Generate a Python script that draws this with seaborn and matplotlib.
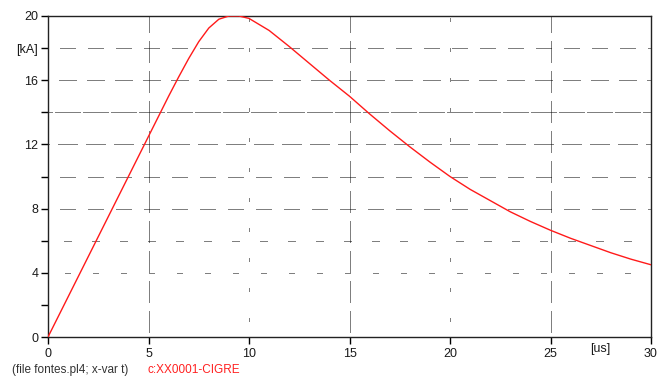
import matplotlib
matplotlib.use("Agg")
import matplotlib.pyplot as plt
import seaborn as sns
import pandas as pd

# Lightning current waveform (CIGRE source), time in microseconds, current in kA
t_us = [0, 1, 2, 3, 4, 5, 5.5, 6, 6.5, 7, 7.5, 8, 8.5, 9, 9.5, 10, 11, 12, 13,
        14, 15, 16, 17, 18, 19, 20, 21, 22, 23, 24, 25, 26, 27, 28, 29, 30]
i_ka = [0.0, 2.5, 5.0, 7.5, 10.0, 12.5, 13.75, 15.0, 16.2, 17.35, 18.4, 19.25,
        19.8, 20.0, 20.0, 19.85, 19.1, 18.1, 17.05, 16.0, 15.0, 13.9, 12.85,
        11.85, 10.9, 10.0, 9.2, 8.5, 7.8, 7.2, 6.65, 6.15, 5.7, 5.25, 4.85, 4.5]

x_ticks = [0, 5, 10, 15, 20, 25, 30]
x_ticklabels = ["0", "5", "10", "15", "20", "25", "30"]
y_ticks = [0, 2, 4, 6, 8, 10, 12, 14, 16, 18, 20]
y_ticklabels = ["0", "", "4", "", "8", "", "12", "", "16", "[kA]", "20"]

df = pd.DataFrame({"t": t_us, "i": i_ka})

sns.set_theme(style="white")
plt.rcParams["font.family"] = ["Liberation Sans", "DejaVu Sans"]
plt.rcParams["lines.scale_dashes"] = False

PX = 0.72  # one pixel in points at 100 dpi

fig = plt.figure(figsize=(6.67, 3.78), dpi=100)
ax = fig.add_axes([48 / 667, 41 / 378, 603 / 667, 321 / 378])
ax.set_xlim(0, 30)
ax.set_ylim(0, 20)


def dotted_dash(dash_px, period_px, start_px):
    """Dash made of single-pixel dots, repeated every period_px."""
    n = max(1, int(round(dash_px / 2.0)))
    seq = [1, 1] * (n - 1) + [1, period_px - (2 * n - 1)]
    seq = [v * PX for v in seq]
    offset = ((period_px - start_px) % period_px) * PX
    return (offset, seq)


# horizontal grid: dash length (px) per level, dashes centred on common columns
h_dash = {4: 6, 6: 9, 8: 16, 10: 17, 12: 20, 14: 26, 16: 18, 18: 15}
h_period = 28
for lvl, d in h_dash.items():
    n = max(1, int(round(d / 2.0)))
    ax.axhline(lvl, color="black", lw=PX,
               linestyle=dotted_dash(d, h_period, 20 - n), zorder=1)

# vertical grid at 5, 15, 25 (dotted dashes) and 10, 20 (sparse marks)
for xv in (5, 15, 25):
    ax.axvline(xv, color="black", lw=PX,
               linestyle=dotted_dash(22, 30, 5), zorder=1)
for xv in (10, 20):
    ax.axvline(xv, color="black", lw=PX,
               linestyle=dotted_dash(3, 30, 16), zorder=1)

sns.lineplot(data=df, x="t", y="i", ax=ax, color="#ff1a1a", lw=1.0,
             zorder=3, legend=False)

ax.set_xlabel("")
ax.set_ylabel("")
ax.set_xticks(x_ticks)
ax.set_xticklabels(x_ticklabels)
ax.set_yticks(y_ticks)
ax.set_yticklabels(y_ticklabels)
ax.tick_params(axis="both", which="major", direction="out", length=5,
               width=1.0, color="black", labelsize=9, labelcolor="#1a1a1a",
               pad=2)
ax.tick_params(axis="x", pad=3)
ax.tick_params(left=True, bottom=True)

for side in ("left", "right", "top", "bottom"):
    ax.spines[side].set_visible(True)
    ax.spines[side].set_color("#222222")
    ax.spines[side].set_linewidth(1.0)

ax.grid(False)

fig.text(600 / 667, 1 - 349 / 378, "[us]", ha="center", va="center",
         fontsize=9, color="#1a1a1a")
fig.text(12 / 667, 1 - 370 / 378, "(file fontes.pl4; x-var t)", ha="left",
         va="center", fontsize=8.5, color="#333333")
fig.text(147 / 667, 1 - 370 / 378, "c:XX0001-CIGRE", ha="left",
         va="center", fontsize=8.5, color="#ff2020")

fig.savefig("out.png", dpi=100, facecolor="white")
